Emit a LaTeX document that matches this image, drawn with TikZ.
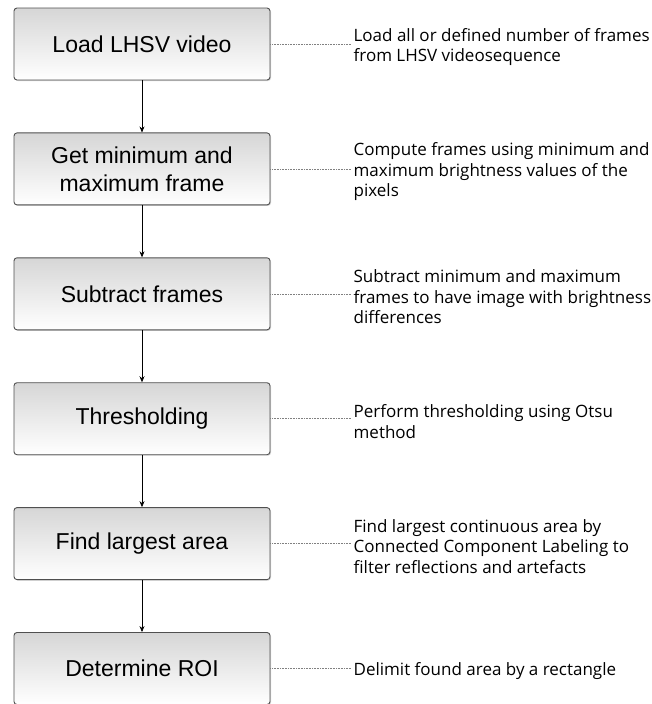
\documentclass[tikz,border=0pt]{standalone}
\usepackage{fontspec}
\setmainfont{Liberation Sans}
\newfontfamily\notefont{Open Sans}
\usetikzlibrary{positioning,arrows.meta,shadows}
\definecolor{boxline}{HTML}{505050}
\definecolor{boxtop}{HTML}{D6D6D6}

\begin{document}
\begin{tikzpicture}[x=1pt, y=-1pt]
\tikzset{stepbox/.style = {shape=rectangle, draw=boxline, line width=0.9pt, rounded corners=3pt,
        top color=boxtop, bottom color=white, minimum width=256pt, minimum height=72pt,
        align=center, font=\fontsize{23}{28}\selectfont,
        drop shadow={shadow xshift=1pt, shadow yshift=-1pt, opacity=0.35}}}
\tikzset{note/.style = {anchor=west, align=left, inner sep=2pt, yshift=-3pt,
        font=\notefont\fontsize{17}{20.5}\selectfont}}
\tikzset{flow/.style = {draw=black, line width=0.7pt, -{Stealth[length=6pt,width=5pt]}}}
\tikzset{link/.style = {draw=gray, line width=0.6pt, densely dotted}}
\useasboundingbox (0,0) rectangle (651,704);

% Define the steps of the method
\node[stepbox] (load) at (142,44) {Load LHSV video};
\node[stepbox, below=52pt of load] (minmax) {Get minimum and\\maximum frame};
\node[stepbox, below=52pt of minmax] (subtract) {Subtract frames};
\node[stepbox, below=52pt of subtract] (thresh) {Thresholding};
\node[stepbox, below=52pt of thresh] (area) {Find largest area};
\node[stepbox, below=52pt of area] (roi) {Determine ROI};

% Notes beside the steps
\node[note, right=81pt of load] (nload) {Load all or defined number of frames\\from LHSV videosequence};
\node[note, right=81pt of minmax] (nminmax) {Compute frames using minimum and\\maximum brightness values of the\\pixels};
\node[note, right=81pt of subtract] (nsubtract) {Subtract minimum and maximum\\frames to have image with brightness\\differences};
\node[note, right=81pt of thresh] (nthresh) {Perform thresholding using Otsu\\method};
\node[note, right=81pt of area] (narea) {Find largest continuous area by\\Connected Component Labeling to\\filter reflections and artefacts};
\node[note, right=81pt of roi] (nroi) {Delimit found area by a rectangle};

% Draw the arrows
\draw[flow] (load) to (minmax);
\draw[flow] (minmax) to (subtract);
\draw[flow] (subtract) to (thresh);
\draw[flow] (thresh) to (area);
\draw[flow] (area) to (roi);

% Draw the dotted links
\draw[link] (load.east) to (load.east -| nload.west);
\draw[link] (minmax.east) to (minmax.east -| nminmax.west);
\draw[link] (subtract.east) to (subtract.east -| nsubtract.west);
\draw[link] (thresh.east) to (thresh.east -| nthresh.west);
\draw[link] (area.east) to (area.east -| narea.west);
\draw[link] (roi.east) to (roi.east -| nroi.west);
\end{tikzpicture}
\end{document}
